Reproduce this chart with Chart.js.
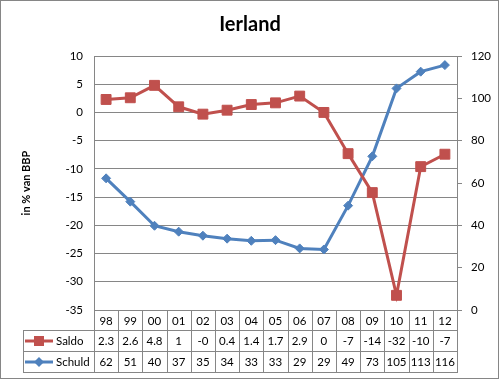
<!DOCTYPE html>
<html>
<head>
<meta charset="utf-8">
<script src="https://cdn.jsdelivr.net/npm/chart.js@4.4.1/dist/chart.umd.min.js"></script>
<style>
html,body{margin:0;padding:0;background:#fff;}
#wrap{width:500px;height:380px;position:relative;}
</style>
</head>
<body>
<div id="wrap"><canvas id="c" width="500" height="380"></canvas></div>
<script>
const categories = ['98','99','00','01','02','03','04','05','06','07','08','09','10','11','12'];
const saldo = [2.3, 2.6, 4.8, 1.0, -0.3, 0.4, 1.4, 1.7, 2.9, 0.0, -7.3, -14.2, -32.4, -9.6, -7.4];
const schuld = [62.2, 51.2, 39.8, 37.0, 35.1, 33.7, 32.7, 33.0, 29.1, 28.6, 49.3, 72.6, 104.7, 112.6, 115.7];
const seriesNames = ['Saldo', 'Schuld'];
const leftTicks = {min: -35, max: 10, step: 5};
const rightTicks = {min: 0, max: 120, step: 20};

const FONT = 'Lato, "Liberation Sans", sans-serif';
const GRID = '#868686';
const RED = '#C0504D';
const BLUE = '#4F81BD';

function fmt(v) {
  let s = String(Math.round(v * 10) / 10);
  if (s.length > 3) {
    const r = Math.round(v);
    s = (r === 0 && v < 0) ? '-0' : String(r);
  }
  return s;
}

const tablePlugin = {
  id: 'dataTable',
  afterDraw(chart) {
    const ctx = chart.ctx;
    const ca = chart.chartArea;
    const n = categories.length;
    const colW = (ca.right - ca.left) / n;
    const top = Math.round(ca.bottom);
    const rows = [top, top + 20, top + 41, top + 62];
    const legL = 23;
    const L = Math.round(ca.left), R = Math.round(ca.right);
    ctx.save();
    ctx.strokeStyle = GRID;
    ctx.lineWidth = 1;
    ctx.beginPath();
    ctx.moveTo(L, rows[0] + 0.5); ctx.lineTo(R, rows[0] + 0.5);
    for (let i = 1; i < 4; i++) { ctx.moveTo(legL, rows[i] + 0.5); ctx.lineTo(R + 1, rows[i] + 0.5); }
    for (let i = 0; i <= n; i++) {
      const x = Math.round(ca.left + i * colW) + 0.5;
      ctx.moveTo(x, rows[0]); ctx.lineTo(x, rows[3] + 1);
    }
    ctx.moveTo(legL + 0.5, rows[1]); ctx.lineTo(legL + 0.5, rows[3] + 1);
    ctx.stroke();

    ctx.fillStyle = '#000';
    ctx.font = '11.5px ' + FONT;
    ctx.textAlign = 'center';
    ctx.textBaseline = 'middle';
    const xs = chart.scales.x;
    const series = [saldo, schuld];
    for (let i = 0; i < n; i++) {
      const x = xs.getPixelForValue(i);
      ctx.fillText(categories[i], x, rows[0] + 11);
      ctx.fillText(fmt(series[0][i]), x, rows[1] + 11);
      ctx.fillText(fmt(series[1][i]), x, rows[2] + 11);
    }
    const colors = [RED, BLUE];
    for (let s = 0; s < 2; s++) {
      const y = rows[s + 1] + 11;
      ctx.strokeStyle = colors[s];
      ctx.lineWidth = 3;
      ctx.beginPath();
      ctx.moveTo(25, y); ctx.lineTo(53, y);
      ctx.stroke();
      ctx.fillStyle = colors[s];
      ctx.beginPath();
      if (s === 0) {
        ctx.rect(34, y - 5, 10, 10);
      } else {
        ctx.moveTo(39, y - 5); ctx.lineTo(44, y); ctx.lineTo(39, y + 5); ctx.lineTo(34, y);
        ctx.closePath();
      }
      ctx.fill();
      ctx.fillStyle = '#000';
      ctx.textAlign = 'left';
      ctx.fillText(seriesNames[s], 56, y);
      ctx.textAlign = 'center';
    }
    ctx.strokeStyle = GRID;
    ctx.lineWidth = 1;
    ctx.strokeRect(0.5, 0.5, 498, 378);
    ctx.restore();
  }
};

new Chart(document.getElementById('c'), {
  type: 'line',
  data: {
    labels: categories,
    datasets: [
      {
        label: seriesNames[0], data: saldo, yAxisID: 'y',
        borderColor: RED, backgroundColor: RED, borderWidth: 3,
        pointStyle: 'rect', pointRadius: 7, pointBorderWidth: 1,
        pointBackgroundColor: RED, pointBorderColor: RED, tension: 0
      },
      {
        label: seriesNames[1], data: schuld, yAxisID: 'y1',
        borderColor: BLUE, backgroundColor: BLUE, borderWidth: 3,
        pointStyle: 'rectRot', pointRadius: 4.5, pointBorderWidth: 1,
        pointBackgroundColor: BLUE, pointBorderColor: BLUE, tension: 0
      }
    ]
  },
  options: {
    responsive: false,
    animation: false,
    layout: {padding: {left: 0, right: 0, top: 0, bottom: 70}},
    plugins: {
      legend: {display: false},
      tooltip: {enabled: false},
      title: {
        display: true, text: 'Ierland', color: '#000',
        font: {family: FONT, size: 20, weight: 'bold', lineHeight: 1.2},
        padding: {top: 13, bottom: 19}
      }
    },
    scales: {
      x: {type: 'category', offset: true, display: false},
      y: {
        position: 'left', min: leftTicks.min, max: leftTicks.max,
        ticks: {stepSize: leftTicks.step, color: '#000', padding: 11, font: {family: FONT, size: 11.5}},
        grid: {color: GRID, drawTicks: false},
        border: {color: GRID},
        title: {display: true, text: 'in % van BBP', color: '#000', font: {family: FONT, size: 11, weight: 'bold'}, padding: {top: 20, bottom: 0}},
        afterFit(scale) { scale.width = 94; }
      },
      y1: {
        position: 'right', min: rightTicks.min, max: rightTicks.max,
        ticks: {stepSize: rightTicks.step, color: '#000', padding: 9, font: {family: FONT, size: 11.5}},
        grid: {drawOnChartArea: false, color: GRID, tickLength: 5},
        border: {color: GRID},
        afterFit(scale) { scale.width = 43; }
      }
    }
  },
  plugins: [tablePlugin]
});
</script>
</body>
</html>
